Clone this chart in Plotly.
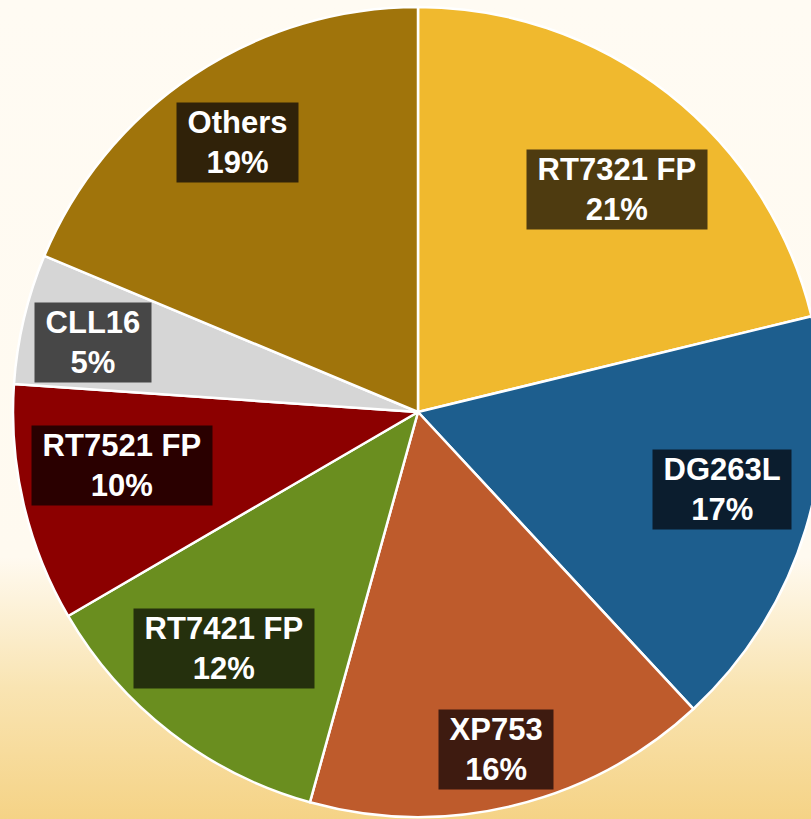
import math
import plotly.graph_objects as go

# ---- data ----
labels = ["RT7321 FP", "DG263L", "XP753", "RT7421 FP", "RT7521 FP", "CLL16", "Others"]
values = [21.2, 16.9, 16.2, 12.3, 9.5, 5.2, 18.7]

# ---- styles ----
slice_colors = ["#F0B92E", "#1D5E8E", "#BE5B2C", "#6A8E1F", "#8C0000", "#D6D6D6", "#A0740B"]
box_colors = ["#4E3B10", "#0B1D2E", "#3E1B10", "#25300D", "#2A0000", "#474747", "#302209"]
label_r = [0.736, 0.774, 0.854, 0.756, 0.742, 0.82, 0.80]      # radial placement factor
label_dang = [3.7, -2.5, 0.7, 1.7, 2.9, -1.3, -0.1]             # angular nudge (deg)

W, H = 836, 819
R = 405
CX, CY = 418, 412  # pixel centre (from top-left)
dom_y = [(H - (CY + R)) / H, (H - (CY - R)) / H]

fig = go.Figure()

# background gradient
fig.add_trace(go.Scatter(
    x=[0, 1, 1, 0, 0], y=[0, 0, 1, 1, 0], mode="lines", fill="toself",
    line=dict(width=0), hoverinfo="skip", showlegend=False,
    fillgradient=dict(type="vertical",
                      colorscale=[[0, "#F5D386"], [0.16, "#F9E4B2"],
                                  [0.32, "#FFFAF0"], [1, "#FFFBF3"]]),
))

fig.add_trace(go.Pie(
    labels=labels, values=values, sort=False, direction="clockwise", rotation=0,
    marker=dict(colors=slice_colors, line=dict(color="white", width=2.5)),
    textinfo="none", hoverinfo="label+percent", showlegend=False,
    domain=dict(x=[0, 1], y=dom_y),
))

total = sum(values)
cum = 0
annotations = []
for lab, v, bc, f, da in zip(labels, values, box_colors, label_r, label_dang):
    mid = (cum + v / 2) / total * 2 * math.pi + math.radians(da)
    cum += v
    px = CX + f * R * math.sin(mid)
    py = CY - f * R * math.cos(mid)
    pct = round(v / total * 100)
    annotations.append(dict(
        x=px / W, y=1 - py / H, xref="paper", yref="paper",
        xanchor="center", yanchor="middle",
        text=f"<b>&nbsp;{lab}&nbsp;<br>{pct}%</b>", showarrow=False,
        font=dict(family="Liberation Sans, Arial, sans-serif", size=31, color="white"),
        bgcolor=bc, borderpad=2, align="center",
    ))

fig.update_layout(
    width=W, height=H, autosize=False,
    margin=dict(l=0, r=0, t=0, b=0),
    paper_bgcolor="#FFFBF3", plot_bgcolor="rgba(0,0,0,0)",
    xaxis=dict(range=[0, 1], visible=False, fixedrange=True),
    yaxis=dict(range=[0, 1], visible=False, fixedrange=True),
    annotations=annotations,
)

fig.write_html(
    "out.html",
    config={"displayModeBar": False},
    post_script="document.body.style.margin='0';document.body.style.overflow='hidden';",
)
